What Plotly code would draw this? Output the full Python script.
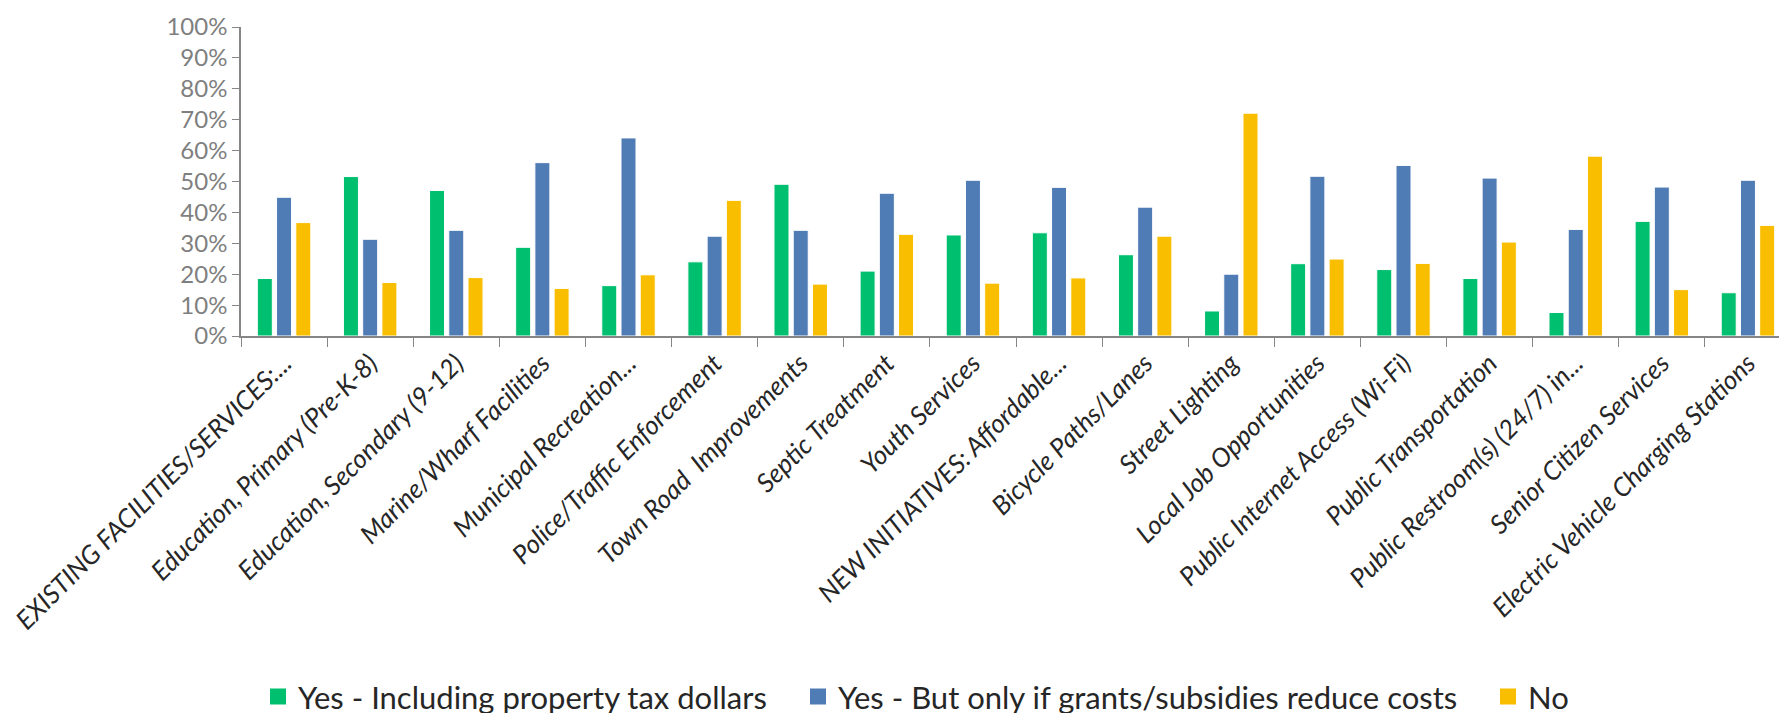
import plotly.graph_objects as go

categories = [
    "EXISTING FACILITIES/SERVICES:...",
    "Education, Primary (Pre-K-8)",
    "Education, Secondary (9-12)",
    "Marine/Wharf Facilities",
    "Municipal Recreation...",
    "Police/Traffic Enforcement",
    "Town Road  Improvements",
    "Septic Treatment",
    "Youth Services",
    "NEW INITIATIVES: Affordable...",
    "Bicycle Paths/Lanes",
    "Street Lighting",
    "Local Job Opportunities",
    "Public Internet Access (Wi-Fi)",
    "Public Transportation",
    "Public Restroom(s) (24/7) in...",
    "Senior Citizen Services",
    "Electric Vehicle Charging Stations",
]

yes_tax = [18.6, 51.6, 47.1, 28.7, 16.3, 24.0, 49.1, 21.0, 32.7, 33.4, 26.3, 8.1, 23.4, 21.5, 18.6, 7.6, 37.1, 14.0]
yes_grants = [44.9, 31.3, 34.2, 56.1, 64.1, 32.3, 34.2, 46.2, 50.4, 48.1, 41.7, 20.0, 51.7, 55.2, 51.1, 34.5, 48.2, 50.4]
no_vals = [36.7, 17.3, 18.9, 15.4, 19.8, 43.9, 16.8, 32.9, 17.1, 18.8, 32.3, 72.1, 24.9, 23.5, 30.4, 58.2, 15.0, 35.8]

series_names = [
    "Yes - Including property tax dollars",
    "Yes - But only if grants/subsidies reduce costs",
    "No",
]
series_colors = ["#00BF6F", "#507CB6", "#F9BE00"]

FONT = "Lato, 'Open Sans', sans-serif"
legend_ids = ["legend", "legend2", "legend3"]
legend_x = [250, 790, 1480]

fig = go.Figure()
for name, vals, col in zip(series_names, [yes_tax, yes_grants, no_vals], series_colors):
    fig.add_trace(go.Bar(
        x=categories,
        y=[v / 100 for v in vals],
        name=name,
        marker=dict(color=col, line=dict(color="white", width=1)),
        showlegend=False,
    ))

# legend-only entries (larger square swatches, like the reference)
for name, col, lid in zip(series_names, series_colors, legend_ids):
    fig.add_trace(go.Scatter(
        x=[None], y=[None],
        mode="markers",
        marker=dict(symbol="square", size=18, color=col),
        name=name,
        legend=lid,
        showlegend=True,
    ))

legend_common = dict(
    orientation="h",
    xref="container",
    yref="container",
    xanchor="left",
    y=0.034,
    yanchor="middle",
    font=dict(family=FONT, size=31, color="#262626"),
    itemwidth=30,
    bgcolor="rgba(0,0,0,0)",
)

fig.update_layout(
    width=1787,
    height=713,
    paper_bgcolor="white",
    plot_bgcolor="white",
    barmode="group",
    bargap=0.33,
    bargroupgap=0.22,
    margin=dict(l=233, r=4, t=19, b=385, autoexpand=False),
    font=dict(family=FONT, color="#262626"),
    showlegend=True,
    legend=dict(x=legend_x[0] / 1787, **legend_common),
    legend2=dict(x=legend_x[1] / 1787, **legend_common),
    legend3=dict(x=legend_x[2] / 1787, **legend_common),
)

fig.update_yaxes(
    range=[0, 1],
    tickvals=[i / 10 for i in range(11)],
    tickformat=".0%",
    showgrid=False,
    zeroline=False,
    showline=True,
    linecolor="#868686",
    linewidth=1.5,
    ticks="outside",
    ticklen=7,
    tickcolor="#868686",
    tickfont=dict(family=FONT, size=24, color="#7F7F7F"),
    automargin=False,
)

fig.update_xaxes(
    tickangle=-45,
    showline=True,
    linecolor="#868686",
    linewidth=1.5,
    ticks="outside",
    tickson="boundaries",
    ticklen=9,
    tickcolor="#868686",
    tickfont=dict(family=FONT, size=26, color="#262626", style="italic"),
    automargin=False,
)

fig.write_html("out.html")
